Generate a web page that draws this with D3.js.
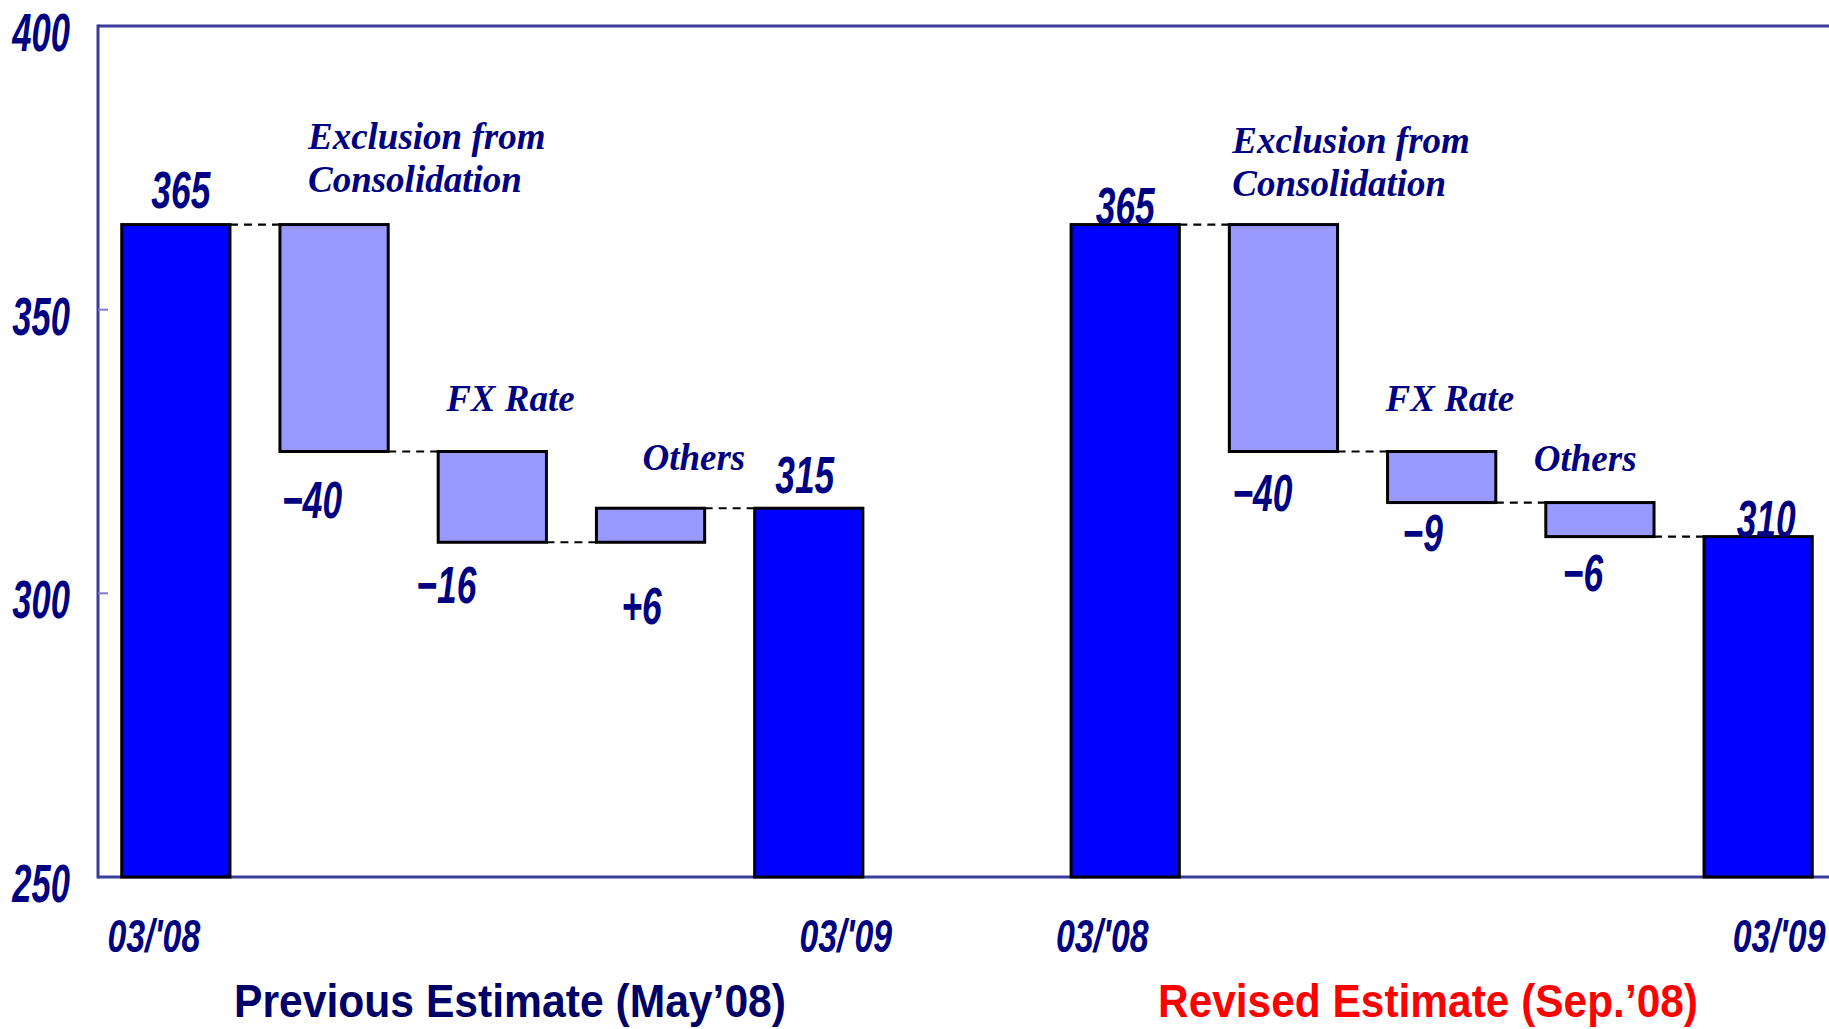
<!DOCTYPE html>
<html>
<head>
<meta charset="utf-8">
<script src="https://cdn.jsdelivr.net/npm/d3@7"></script>
<style>
  body { margin: 0; background: #fff; }
  svg { display: block; }
</style>
</head>
<body>
<svg id="chart" width="1829" height="1029"></svg>
<script>
// chart values
var groupTitles = ["Previous Estimate (May\u201908)", "Revised Estimate (Sep.\u201908)"];
var stepNames = ["03/'08", "Exclusion from|Consolidation", "FX Rate", "Others", "03/'09"];
var previousSteps = [365, -40, -16, 6, 315];
var revisedSteps = [365, -40, -9, -6, 310];
var yTicks = [250, 300, 350, 400];

// hand placement of the annotations (the source chart nudged them around)
var valueNudge = [
  [[5, -17], [-22, 66], [-46, 61], [-9, 82], [-4, -15]],
  [[0, -1], [-21, 59], [-19, 48], [-17, 54], [8, 0]]
];
var nameNudge = [
  [null, [28, -76], [8, -41], [46, -38], null],
  [null, [3, -72], [-2, -41], [-12, -32], null]
];
var dateNudge = [[-22, 37], [-23, 21]];

var navy = "#000080",
  axisColor = "#3b3b9b",
  numFont = "'Liberation Sans Narrow', 'Arial Narrow', 'Liberation Sans', sans-serif",
  serif = "'Liberation Serif', 'Times New Roman', serif";

var svg = d3.select("#chart");
var plotL = 98, plotT = 26, plotB = 877, plotR = 1829;

// 11 slots: 5 steps, an empty gap, 5 steps
var slots = [];
stepNames.forEach(function(d, i){ slots.push("p" + i); });
slots.push("gap");
stepNames.forEach(function(d, i){ slots.push("r" + i); });

var x = d3.scaleBand()
    .domain(slots)
    .range([plotL, 1836])
    .paddingInner(0.316)
    .paddingOuter(0.15);

var y = d3.scaleLinear()
    .domain([250, 400])
    .range([plotB, plotT]);

// waterfall pieces
function buildSteps(values, prefix, g){
  var run = 0, out = [];
  values.forEach(function(v, i){
    var total = (i == 0 || i == values.length - 1);
    var lo, hi;
    if (total) { lo = 250; hi = v; run = v; }
    else { lo = Math.min(run, run + v); hi = Math.max(run, run + v); run = run + v; }
    out.push({key: prefix + i, i: i, g: g, value: v, total: total,
              lo: lo, hi: hi, level: run});
  });
  return out;
}
var groups = [buildSteps(previousSteps, "p", 0), buildSteps(revisedSteps, "r", 1)];
var allSteps = groups[0].concat(groups[1]);

// frame
svg.append("line").attr("x1", plotL).attr("x2", plotR).attr("y1", plotT).attr("y2", plotT)
   .attr("stroke", axisColor).attr("stroke-width", 3);
svg.append("line").attr("x1", plotL).attr("x2", plotL).attr("y1", plotT - 1.5).attr("y2", plotB + 1.5)
   .attr("stroke", axisColor).attr("stroke-width", 3);
svg.append("line").attr("x1", plotL).attr("x2", plotR).attr("y1", plotB).attr("y2", plotB)
   .attr("stroke", axisColor).attr("stroke-width", 3);

svg.selectAll("line.tick")
   .data(yTicks.filter(function(t){ return t > 250 && t < 400; }))
   .enter().append("line")
   .attr("class", "tick")
   .attr("x1", plotL).attr("x2", plotL + 10)
   .attr("y1", function(d){ return y(d); })
   .attr("y2", function(d){ return y(d); })
   .attr("stroke", "#7f7fbf").attr("stroke-width", 2);

// condensed italic number text
function numText(sel, cx, cy, txt, size, sx, anchor){
  return sel.append("text")
     .attr("transform", "translate(" + cx + "," + cy + ") scale(" + sx + ",1)")
     .attr("text-anchor", anchor || "middle")
     .attr("font-family", numFont)
     .attr("font-style", "italic")
     .attr("font-weight", "bold")
     .attr("font-size", size)
     .attr("fill", navy)
     .text(txt);
}

yTicks.forEach(function(t){
  numText(svg, 70, y(t) + 25, t, 54, 0.64, "end");
});

// connectors
allSteps.forEach(function(d){
  if (d.i == stepNames.length - 1) return;
  var next = d.g == 0 ? "p" + (d.i + 1) : "r" + (d.i + 1);
  svg.append("line")
     .attr("x1", x(d.key) + x.bandwidth())
     .attr("x2", x(next))
     .attr("y1", y(d.level)).attr("y2", y(d.level))
     .attr("stroke", "#000").attr("stroke-width", 2.2)
     .attr("stroke-dasharray", "8,6");
});

// bars
svg.selectAll("rect.bar")
   .data(allSteps)
   .enter().append("rect")
   .attr("class", "bar")
   .attr("x", function(d){ return x(d.key); })
   .attr("width", x.bandwidth())
   .attr("y", function(d){ return y(d.hi); })
   .attr("height", function(d){ return y(d.lo) - y(d.hi); })
   .attr("fill", function(d){ return d.total ? "#0000ff" : "#9999ff"; })
   .attr("stroke", "#000")
   .attr("stroke-width", 3);

// value labels
allSteps.forEach(function(d){
  var n = valueNudge[d.g][d.i];
  var txt = d.total ? String(d.value) : (d.value > 0 ? "+" + d.value : "\u2212" + Math.abs(d.value));
  var cx = x(d.key) + x.bandwidth() / 2 + n[0];
  var base = d.total ? y(d.hi) : y(d.lo);
  numText(svg, cx, base + n[1], txt, 52, 0.68);
});

// step names
allSteps.forEach(function(d){
  var n = nameNudge[d.g][d.i];
  if (!n) return;
  var lines = stepNames[d.i].split("|");
  lines.forEach(function(line, k){
    svg.append("text")
       .attr("x", x(d.key) + n[0])
       .attr("y", y(d.hi) + n[1] + k * 43)
       .attr("font-family", serif)
       .attr("font-style", "italic")
       .attr("font-weight", "bold")
       .attr("font-size", 37)
       .attr("fill", navy)
       .text(line);
  });
});

// dates under the total bars
allSteps.filter(function(d){ return d.total; }).forEach(function(d){
  var n = dateNudge[d.g][d.i == 0 ? 0 : 1];
  numText(svg, x(d.key) + x.bandwidth() / 2 + n, plotB + 75, stepNames[d.i], 47, 0.72);
});

// group titles
var titleColors = ["#000066", "#ff0000"];
var titleSpans = [[234, 786], [1158, 1698]];
groupTitles.forEach(function(t, g){
  svg.append("text")
     .attr("x", titleSpans[g][0])
     .attr("y", 1017)
     .attr("font-family", "'Liberation Sans', Arial, sans-serif")
     .attr("font-weight", "bold")
     .attr("font-size", 46)
     .attr("textLength", titleSpans[g][1] - titleSpans[g][0])
     .attr("lengthAdjust", "spacingAndGlyphs")
     .attr("fill", titleColors[g])
     .text(t);
});
</script>
</body>
</html>
